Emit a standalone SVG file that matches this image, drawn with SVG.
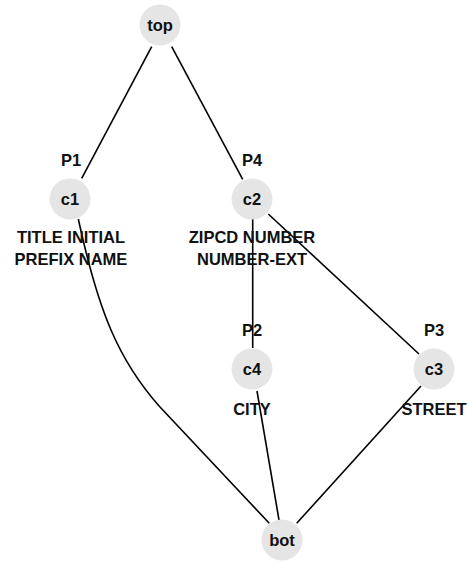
<svg xmlns="http://www.w3.org/2000/svg" width="470" height="562" viewBox="0 0 470 562">
<style>
.n{fill:#e5e5e5}
.t{font-family:"Liberation Sans",Arial,sans-serif;font-weight:bold;font-size:16.5px;fill:#111;text-anchor:middle}
.e{fill:none;stroke:#000;stroke-width:1.6}
</style>
<rect width="470" height="562" fill="#fff"/>
<g id="connectors">
<line class="e" x1="151.7" y1="46.7" x2="81.7" y2="178.3"/>
<line class="e" x1="171.7" y1="46.7" x2="242.7" y2="179.3"/>
<line class="e" x1="252.7" y1="219" x2="252.7" y2="348"/>
<line class="e" x1="268.3" y1="214" x2="419" y2="354"/>
<line class="e" x1="257" y1="391" x2="279" y2="520"/>
<line class="e" x1="421" y1="386" x2="296.7" y2="523.3"/>
<path class="e" d="M78.3,219 C98,310 118,360 160,407 L269.3,523.3"/>
</g>
<g id="top">
<circle class="n" cx="160" cy="25" r="20.5"/>
<text class="t" x="160" y="30.5">top</text>
</g>
<g id="c1">
<circle class="n" cx="70" cy="199" r="20.5"/>
<text class="t" x="71" y="166">P1</text>
<text class="t" x="70" y="204.5">c1</text>
<text class="t" x="71" y="242.5">TITLE INITIAL</text>
<text class="t" x="71" y="265">PREFIX NAME</text>
</g>
<g id="c2">
<circle class="n" cx="252" cy="199" r="20.5"/>
<text class="t" x="252" y="166">P4</text>
<text class="t" x="252" y="204.5">c2</text>
<text class="t" x="252" y="242.5">ZIPCD NUMBER</text>
<text class="t" x="252" y="265">NUMBER-EXT</text>
</g>
<g id="c4">
<circle class="n" cx="252" cy="369" r="20.5"/>
<text class="t" x="252" y="336">P2</text>
<text class="t" x="252" y="374.5">c4</text>
<text class="t" x="252" y="414.5">CITY</text>
</g>
<g id="c3">
<circle class="n" cx="434" cy="369" r="20.5"/>
<text class="t" x="434" y="336">P3</text>
<text class="t" x="434" y="374.5">c3</text>
<text class="t" x="434" y="414.5">STREET</text>
</g>
<g id="bot">
<circle class="n" cx="282" cy="540" r="20.5"/>
<text class="t" x="282" y="545.5">bot</text>
</g>
</svg>
